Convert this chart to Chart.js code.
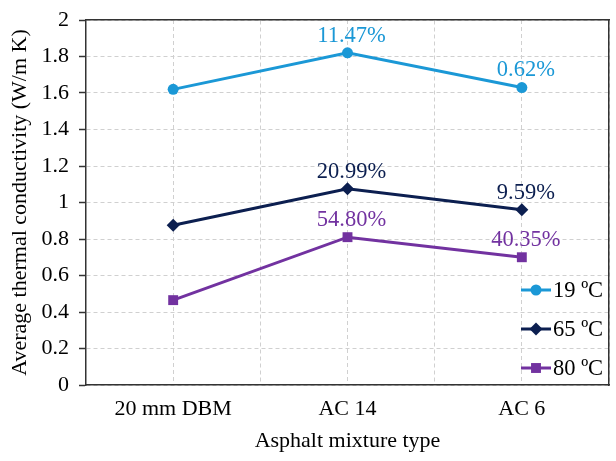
<!DOCTYPE html>
<html>
<head>
<meta charset="utf-8">
<script src="https://cdn.jsdelivr.net/npm/chart.js@4.4.1/dist/chart.umd.min.js"></script>
<style>
  html, body { margin: 0; padding: 0; background: #fff; }
  canvas { display: block; }
</style>
</head>
<body>
<canvas id="chart" width="616" height="461"></canvas>
<script>
// --- Data ---
const categories = ['20 mm DBM', 'AC 14', 'AC 6'];
const temp19 = [1.62, 1.82, 1.63];
const temp65 = [0.875, 1.075, 0.96];
const temp80 = [0.465, 0.81, 0.70];
const pct19 = ['', '11.47%', '0.62%'];
const pct65 = ['', '20.99%', '9.59%'];
const pct80 = ['', '54.80%', '40.35%'];
const seriesNames = ['19 ºC', '65 ºC', '80 ºC'];

const FONT = "'Liberation Serif', 'Times New Roman', serif";
const BLUE = '#1b98d6';
const NAVY = '#0c1f50';
const PURPLE = '#7232a0';
const GRID = '#d0d0d0';
const AXIS = '#333333';

// --- Percentage labels above points ---
const pointLabels = {
    id: 'pointLabels',
    afterDatasetsDraw(chart) {
        const ctx = chart.ctx;
        ctx.save();
        ctx.font = `22.5px ${FONT}`;
        ctx.textAlign = 'center';
        ctx.textBaseline = 'middle';
        chart.data.datasets.forEach((ds, i) => {
            const meta = chart.getDatasetMeta(i);
            ctx.fillStyle = ds.borderColor;
            meta.data.forEach((pt, j) => {
                const txt = ds.pctLabels[j];
                if (txt) ctx.fillText(txt, pt.x + 4, pt.y - 17);
            });
        });
        ctx.restore();
    }
};

// --- Legend inside the plot, bottom right ---
const insideLegend = {
    id: 'insideLegend',
    afterDatasetsDraw(chart) {
        const ctx = chart.ctx;
        const area = chart.chartArea;
        const x0 = area.right - 88;
        const rows = [area.bottom - 95, area.bottom - 56, area.bottom - 17];
        ctx.save();
        ctx.font = `22.5px ${FONT}`;
        ctx.textBaseline = 'middle';
        ctx.textAlign = 'left';
        chart.data.datasets.forEach((ds, i) => {
            const y = rows[i];
            ctx.strokeStyle = ds.borderColor;
            ctx.lineWidth = 3;
            ctx.beginPath();
            ctx.moveTo(x0, y);
            ctx.lineTo(x0 + 30, y);
            ctx.stroke();
            ctx.fillStyle = ds.borderColor;
            Chart.helpers.drawPoint(ctx, { pointStyle: ds.pointStyle, radius: ds.pointRadius, rotation: 0 }, x0 + 15, y);
            ctx.fillStyle = '#000';
            ctx.fillText(ds.label, x0 + 32, y + 1);
        });
        ctx.restore();
    }
};

new Chart(document.getElementById('chart'), {
    type: 'line',
    data: {
        labels: categories,
        datasets: [
            { label: seriesNames[0], data: temp19, pctLabels: pct19, borderColor: BLUE, backgroundColor: BLUE, pointStyle: 'circle', pointRadius: 5.5 },
            { label: seriesNames[1], data: temp65, pctLabels: pct65, borderColor: NAVY, backgroundColor: NAVY, pointStyle: 'rectRot', pointRadius: 6.5 },
            { label: seriesNames[2], data: temp80, pctLabels: pct80, borderColor: PURPLE, backgroundColor: PURPLE, pointStyle: 'rect', pointRadius: 7 }
        ]
    },
    options: {
        responsive: false,
        animation: false,
        layout: { padding: { top: 20, right: 0, bottom: 0, left: 0 } },
        elements: {
            line: { borderWidth: 3, tension: 0 },
            point: { borderWidth: 0, hoverRadius: 6 }
        },
        plugins: {
            legend: { display: false },
            tooltip: { enabled: false }
        },
        scales: {
            x: {
                type: 'category',
                offset: true,
                grid: { offset: false, color: GRID, drawTicks: false },
                border: { color: AXIS, width: 1.5, dash: [4, 3] },
                ticks: { color: '#000', font: { family: FONT, size: 22 }, padding: 11 },
                title: { display: true, text: 'Asphalt mixture type', color: '#000', font: { family: FONT, size: 22 }, padding: { top: 4, bottom: 7 } },
                afterFit: (scale) => { scale.height = 76; scale.paddingLeft = 0; scale.paddingRight = 0; }
            },
            x2: {
                type: 'category',
                position: 'top',
                offset: true,
                grid: { offset: true, color: GRID, drawTicks: false },
                border: { color: AXIS, width: 1.5, dash: [4, 3] },
                ticks: { display: false },
                afterFit: (scale) => { scale.height = 0; }
            },
            y: {
                min: 0,
                max: 2,
                ticks: {
                    stepSize: 0.2, color: '#000', font: { family: FONT, size: 22 }, padding: 10,
                    callback: (value) => String(+value.toFixed(1))
                },
                grid: { color: GRID, tickColor: AXIS, tickBorderDash: [], tickLength: 7, tickWidth: 1.5 },
                border: { color: AXIS, width: 1.5, dash: [4, 3] },
                title: { display: true, text: 'Average thermal conductivity (W/m K)', color: '#000', font: { family: FONT, size: 22 }, padding: { top: 7, bottom: 1 } },
                afterFit: (scale) => { scale.width = 86; scale.paddingTop = 0; scale.paddingBottom = 0; }
            },
            y2: {
                position: 'right',
                min: 0,
                max: 2,
                grid: { display: false, drawTicks: false },
                border: { color: AXIS, width: 1.5 },
                ticks: { display: false },
                afterFit: (scale) => { scale.width = 0; scale.paddingTop = 0; scale.paddingBottom = 0; }
            }
        }
    },
    plugins: [pointLabels, insideLegend]
});
</script>
</body>
</html>
